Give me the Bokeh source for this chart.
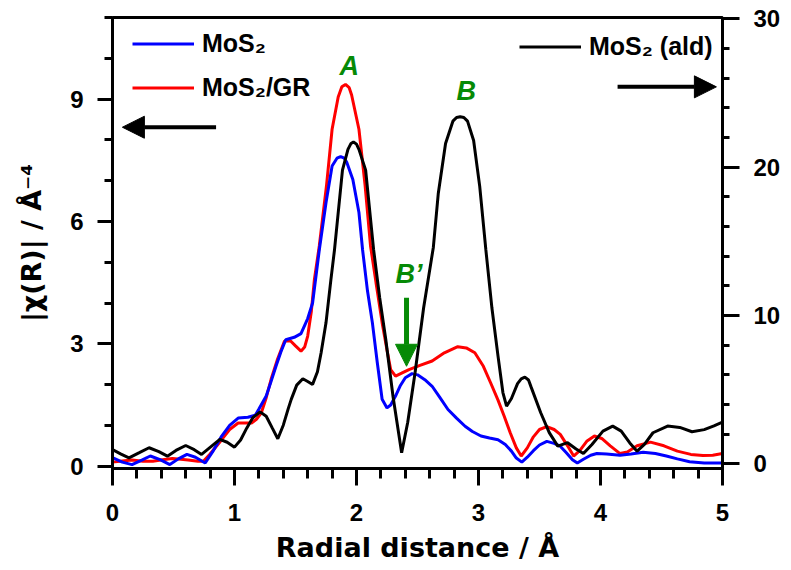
from bokeh.plotting import figure
from bokeh.models import (Range1d, LinearAxis, SingleIntervalTicker, Legend, LegendItem,
                          Arrow, NormalHead, ColumnDataSource)
from bokeh.core.properties import value
from bokeh.embed import file_html
from bokeh.resources import INLINE

# ---------------- data ----------------
r_mos2 = [0.00, 0.08, 0.16, 0.24, 0.31, 0.39, 0.47, 0.54, 0.61, 0.68, 0.76, 0.82, 0.895, 0.96,
          1.03, 1.11, 1.17, 1.20, 1.26, 1.30, 1.34, 1.38, 1.42, 1.49, 1.545, 1.60, 1.64, 1.695,
          1.75, 1.80, 1.84, 1.87, 1.90, 1.92, 1.97, 2.02, 2.05, 2.09, 2.13, 2.17, 2.21, 2.25, 2.28,
          2.32, 2.36, 2.40, 2.455, 2.50, 2.56, 2.62, 2.68, 2.75, 2.82, 2.89, 2.95, 3.02, 3.09,
          3.16, 3.22, 3.27, 3.31, 3.355, 3.40, 3.45, 3.50, 3.56, 3.62, 3.67, 3.72, 3.77, 3.81,
          3.86, 3.92, 3.97, 4.05, 4.16, 4.25, 4.35, 4.45, 4.54, 4.63, 4.73, 4.85, 5.00]
chi_mos2 = [0.21, 0.10, 0.04, 0.15, 0.25, 0.16, 0.04, 0.18, 0.29, 0.22, 0.08, 0.35, 0.74, 1.00,
            1.18, 1.20, 1.25, 1.40, 1.72, 2.08, 2.45, 2.80, 3.10, 3.16, 3.25, 3.62, 4.00, 5.30,
            6.46, 7.36, 7.55, 7.59, 7.55, 7.45, 7.03, 6.22, 5.30, 4.30, 3.52, 2.55, 1.64, 1.43, 1.50,
            1.72, 1.98, 2.17, 2.27, 2.24, 2.12, 1.96, 1.70, 1.39, 1.18, 0.98, 0.85, 0.74, 0.69,
            0.65, 0.53, 0.37, 0.20, 0.10, 0.22, 0.38, 0.52, 0.61, 0.56, 0.49, 0.33, 0.16, 0.08,
            0.17, 0.27, 0.31, 0.30, 0.27, 0.30, 0.34, 0.31, 0.25, 0.18, 0.11, 0.08, 0.08]

r_gr = [0.00, 0.08, 0.16, 0.25, 0.33, 0.41, 0.49, 0.56, 0.62, 0.70, 0.745, 0.80, 0.895, 0.96,
        1.03, 1.09, 1.14, 1.18, 1.22, 1.26, 1.30, 1.35, 1.41, 1.46, 1.50, 1.545, 1.575, 1.60,
        1.63, 1.655, 1.695, 1.755, 1.80, 1.85, 1.88, 1.91, 1.94, 1.96, 2.02, 2.07, 2.115, 2.16,
        2.21, 2.25, 2.28, 2.32, 2.37, 2.43, 2.52, 2.62, 2.72, 2.83, 2.90, 2.97, 3.04, 3.10, 3.16,
        3.21, 3.26, 3.31, 3.35, 3.40, 3.45, 3.50, 3.56, 3.62, 3.67, 3.73, 3.78, 3.83, 3.89, 3.95,
        4.01, 4.08, 4.16, 4.22, 4.30, 4.41, 4.52, 4.63, 4.74, 4.84, 4.92, 5.00]
chi_gr = [0.10, 0.13, 0.15, 0.12, 0.12, 0.16, 0.19, 0.17, 0.15, 0.12, 0.12, 0.30, 0.65, 0.90,
          1.06, 1.06, 1.06, 1.15, 1.31, 1.68, 2.13, 2.60, 3.07, 3.07, 2.95, 2.82, 2.92, 3.19,
          3.80, 4.58, 5.40, 6.90, 8.26, 9.05, 9.30, 9.36, 9.28, 9.10, 8.26, 6.90, 5.40, 4.50,
          3.52, 2.85, 2.37, 2.21, 2.28, 2.37, 2.47, 2.58, 2.78, 2.93, 2.90, 2.78, 2.45, 2.04, 1.62,
          1.23, 0.82, 0.45, 0.25, 0.45, 0.72, 0.90, 0.97, 0.90, 0.78, 0.50, 0.25, 0.38, 0.62, 0.74,
          0.68, 0.50, 0.31, 0.35, 0.50, 0.59, 0.50, 0.37, 0.29, 0.26, 0.27, 0.31]

r_ald = [0.00, 0.07, 0.135, 0.22, 0.30, 0.38, 0.45, 0.52, 0.60, 0.67, 0.73, 0.80, 0.88, 0.94,
         1.00, 1.05, 1.10, 1.15, 1.21, 1.26, 1.31, 1.355, 1.40, 1.44, 1.465, 1.51, 1.56, 1.60,
         1.64, 1.68, 1.71, 1.75, 1.79, 1.82, 1.885, 1.93, 1.955, 1.975, 2.00, 2.02, 2.075, 2.14,
         2.19, 2.24, 2.30, 2.37, 2.42, 2.48, 2.55, 2.63, 2.67, 2.73, 2.79, 2.82, 2.85, 2.88, 2.91,
         2.96, 3.01, 3.06, 3.11, 3.16, 3.20, 3.23, 3.27, 3.32, 3.35, 3.38, 3.41, 3.43, 3.51, 3.58,
         3.65, 3.73, 3.80, 3.86, 3.93, 4.02, 4.10, 4.17, 4.24, 4.30, 4.36, 4.43, 4.55, 4.65, 4.75,
         4.85, 4.93, 5.00]
chi_ald = [0.96, 0.65, 0.40, 0.75, 1.08, 0.82, 0.51, 0.90, 1.23, 0.95, 0.63, 1.10, 1.64, 1.45,
           1.12, 1.60, 2.40, 3.10, 3.50, 3.20, 2.40, 1.69, 2.60, 3.70, 4.34, 5.30, 5.73, 5.55,
           5.35, 6.20, 7.48, 9.50, 12.40, 14.45, 19.80, 21.20, 21.60, 21.70, 21.55, 21.20, 19.80, 14.45,
           11.20, 8.38, 4.50, 0.74, 2.80, 6.14, 10.50, 14.60, 18.20, 21.60, 23.10, 23.35, 23.40, 23.35,
           23.10, 21.80, 18.70, 14.45, 10.50, 7.26, 4.80, 3.88, 4.40, 5.40, 5.72, 5.84, 5.65, 5.20,
           3.44, 2.10, 1.19, 1.42, 1.00, 0.69, 1.30, 2.20, 2.54, 2.20, 1.40, 0.85, 1.30, 2.09, 2.54,
           2.45, 2.16, 2.30, 2.55, 2.81]

series_labels = ["MoS₂", "MoS₂/GR", "MoS₂ (ald)"]
peak_labels = ["A", "B", "B’"]
peak_label_r = [1.94, 2.90, 2.43]
peak_label_chi = [9.80, 9.19, 4.70]

x_ticks_interval = 1
left_ticks_interval = 3
right_ticks_interval = 10

GREEN = "#068a06"
TICK_FONT = "Liberation Sans"
LABEL_FONT = "DejaVu Sans"

# ---------------- figure ----------------
p = figure(width=783, height=570, x_range=Range1d(0, 5), y_range=Range1d(-0.056, 11.0),
           output_backend="svg", toolbar_location=None,
           min_border_left=112, min_border_right=57, min_border_top=17, min_border_bottom=102)
p.extra_y_ranges = {"right": Range1d(-0.32, 30.09)}
p.background_fill_color = "white"
p.border_fill_color = "white"
p.xgrid.visible = False
p.ygrid.visible = False
p.outline_line_color = "black"
p.outline_line_width = 3
p.outline_line_alpha = 1.0

rr = p.line(r_gr, chi_gr, line_color="#ff0000", line_width=3)
rb = p.line(r_mos2, chi_mos2, line_color="#0000ff", line_width=3)
rk = p.line(r_ald, chi_ald, line_color="black", line_width=3, y_range_name="right")

right_axis = LinearAxis(y_range_name="right")
p.add_layout(right_axis, "right")

p.xaxis[0].ticker = SingleIntervalTicker(interval=x_ticks_interval, num_minor_ticks=5)
p.yaxis[0].ticker = SingleIntervalTicker(interval=left_ticks_interval, num_minor_ticks=3)
right_axis.ticker = SingleIntervalTicker(interval=right_ticks_interval, num_minor_ticks=5)

for ax in [p.xaxis[0], p.yaxis[0], right_axis]:
    ax.axis_line_width = 3
    ax.axis_line_color = "black"
    ax.major_tick_line_width = 3
    ax.minor_tick_line_width = 3
    ax.major_tick_in = 0
    ax.minor_tick_in = 0
    ax.major_tick_out = 16
    ax.minor_tick_out = 9
    ax.major_label_text_font = TICK_FONT
    ax.major_label_text_font_style = "bold"
    ax.major_label_text_font_size = "24px"
    ax.major_label_text_color = "black"
    ax.major_label_standoff = 14

right_axis.major_tick_out = 17
right_axis.minor_tick_out = 7
p.yaxis[0].major_tick_out = 15
p.yaxis[0].minor_tick_out = 8
p.xaxis[0].major_tick_out = 17
p.xaxis[0].minor_tick_out = 10
p.xaxis[0].major_label_standoff = 18
p.xaxis[0].axis_label = "Radial distance / Å"
p.xaxis[0].axis_label_standoff = 8
p.yaxis[0].axis_label = "|χ(R)| / Å⁻⁴"
p.yaxis[0].axis_label_standoff = 20
for ax in [p.xaxis[0], p.yaxis[0]]:
    ax.axis_label_text_font = LABEL_FONT
    ax.axis_label_text_font_style = "bold"
    ax.axis_label_text_font_size = "27px"
    ax.axis_label_text_color = "black"

# ---------------- legends ----------------
def style_legend(leg):
    leg.glyph_width = 62
    leg.glyph_height = 29
    leg.label_height = 29
    leg.label_standoff = 8
    leg.spacing = 15
    leg.padding = 0
    leg.margin = 0
    leg.border_line_alpha = 0
    leg.background_fill_alpha = 0
    leg.label_text_font = TICK_FONT
    leg.label_text_font_style = "bold"
    leg.label_text_font_size = "25px"
    leg.label_text_color = "black"

leg1 = Legend(items=[LegendItem(label=series_labels[0], renderers=[rb]),
                     LegendItem(label=series_labels[1], renderers=[rr])],
              location=(20, 366))
leg2 = Legend(items=[LegendItem(label=series_labels[2], renderers=[rk])],
              location=(407, 407))
style_legend(leg1)
style_legend(leg2)
p.add_layout(leg1)
p.add_layout(leg2)

# ---------------- annotations ----------------
arrow_left = dict(x_start=0.849, x_end=0.081, y=8.31)
arrow_right = dict(x_start=4.14, x_end=4.95, y=9.30)
arrow_green = dict(x=2.41, y_start=4.13, y_end=2.45)

p.add_layout(Arrow(end=NormalHead(size=22, fill_color="black", line_color="black"),
                   x_start=arrow_left["x_start"], y_start=arrow_left["y"],
                   x_end=arrow_left["x_end"], y_end=arrow_left["y"],
                   line_color="black", line_width=4))
p.add_layout(Arrow(end=NormalHead(size=22, fill_color="black", line_color="black"),
                   x_start=arrow_right["x_start"], y_start=arrow_right["y"],
                   x_end=arrow_right["x_end"], y_end=arrow_right["y"],
                   line_color="black", line_width=4))
p.add_layout(Arrow(end=NormalHead(size=22, fill_color=GREEN, line_color=GREEN),
                   x_start=arrow_green["x"], y_start=arrow_green["y_start"],
                   x_end=arrow_green["x"], y_end=arrow_green["y_end"],
                   line_color=GREEN, line_width=5))

src = ColumnDataSource(dict(x=peak_label_r, y=peak_label_chi, t=peak_labels))
p.text(x="x", y="y", text="t", source=src, text_color=GREEN,
       text_font=value(TICK_FONT), text_font_style="bold italic",
       text_font_size="27px", text_align="center", text_baseline="alphabetic")

open("out.html", "w").write(file_html(p, INLINE))
